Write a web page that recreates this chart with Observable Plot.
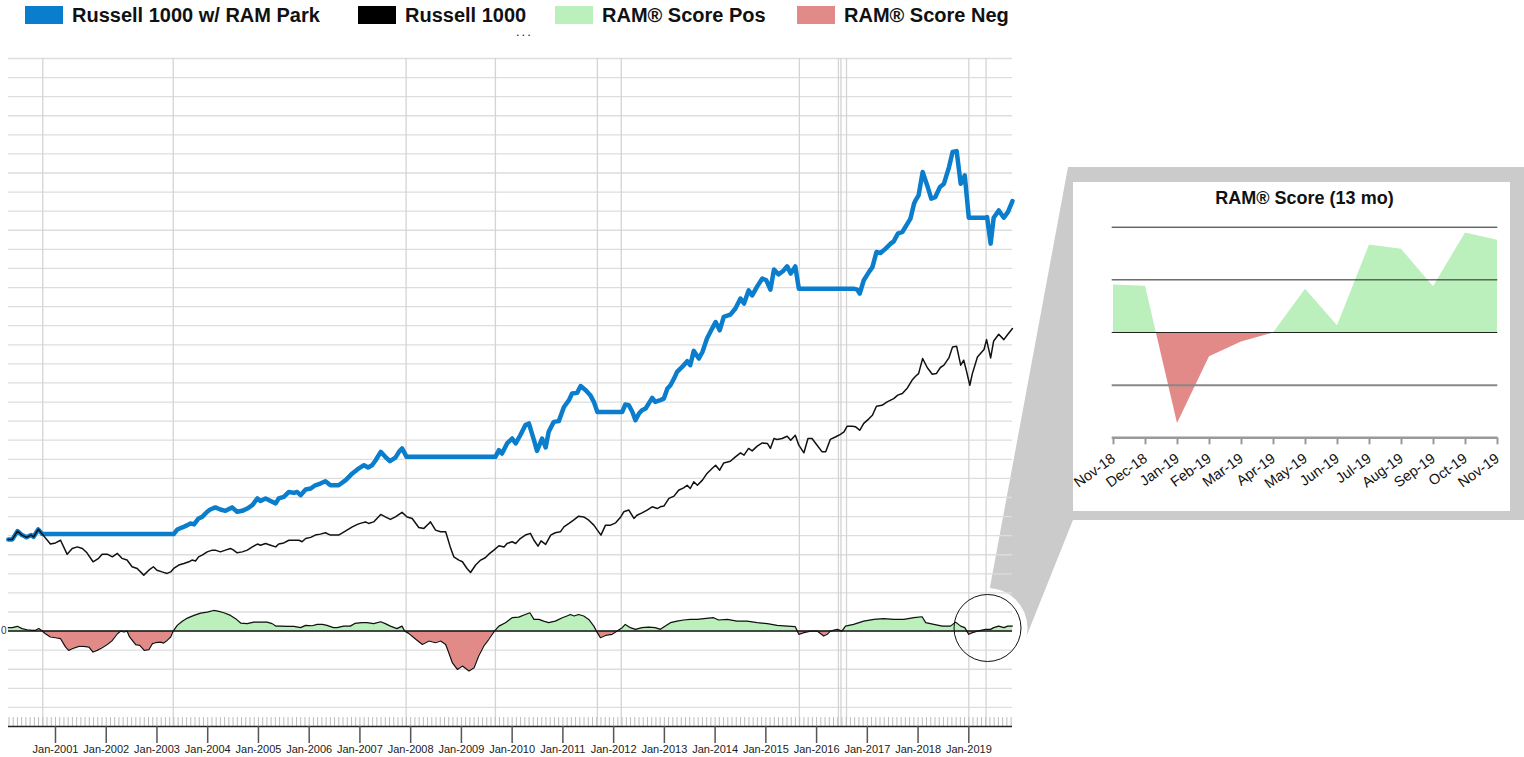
<!DOCTYPE html>
<html>
<head>
<meta charset="utf-8">
<script src="https://cdn.jsdelivr.net/npm/d3@7"></script>
<script src="https://cdn.jsdelivr.net/npm/@observablehq/plot@0.6"></script>
<style>
  html, body { margin: 0; padding: 0; background: #fff; }
  body { font-family: "Liberation Sans", Arial, sans-serif; }
  #wrap { position: relative; width: 1524px; height: 757px; overflow: hidden; }
  .layer { position: absolute; left: 0; top: 0; }
  .item { position: absolute; top: 5px; display: flex; align-items: center; height: 20px;
          font-weight: bold; font-size: 20px; line-height: 20px; color: #111; white-space: nowrap; }
  .sw { display: inline-block; width: 38px; height: 18px; margin-right: 9px; }
  #dots { position: absolute; left: 516px; top: 27px; font-size: 13px; letter-spacing: 2px; line-height: 9px; height: 9px; color: #222; }
  #insetBox { position: absolute; left: 1073px; top: 182px; width: 437px; height: 329px; background: #fff; }
  #insetTitle { position: absolute; left: 38.7px; width: 385.6px; top: 6px; text-align: center;
                font-weight: bold; font-size: 18px; line-height: 20px; color: #111; }
</style>
</head>
<body>
<div id="wrap">
  <svg class="layer" id="under" width="1524" height="757">
    <polygon points="1068,167 1524,167 1524,520 1073,520 1025,640 990,587" fill="#cbcbcb"></polygon>
    <circle cx="987.5" cy="628" r="40" fill="#fff"></circle>
  </svg>
  <div class="layer" id="mainChart"></div>
  <svg class="layer" id="over" width="1524" height="757">
    <circle cx="987.5" cy="628" r="33.5" fill="none" stroke="#111" stroke-width="1"></circle>
  </svg>
  <div id="insetBox"><div id="insetTitle"></div></div>
  <div id="legend"></div>
  <div id="dots">...</div>
</div>
<script>
// ---------------- DATA ----------------
const legendLabels = ["Russell 1000 w/ RAM Park", "Russell 1000", "RAM® Score Pos", "RAM® Score Neg"];
const legendColors = ["#0a7dcc", "#000000", "#bbefbb", "#e28a88"];

// Russell 1000 (index units, decimal years)
const russell1000 = [
[2000.07,48.0],[2000.15,48.0],[2000.25,52.4],[2000.34,50.3],[2000.43,49.1],[2000.52,50.3],[2000.57,49.4],[2000.66,53.3],[2000.74,50.8],
[2000.90,45.6],[2001.00,46.2],[2001.10,47.6],[2001.23,40.2],[2001.33,43.3],[2001.43,44.1],[2001.53,43.3],[2001.62,41.0],[2001.74,36.3],[2001.85,38.1],[2001.92,40.2],[2002.02,40.3],[2002.12,38.9],[2002.22,40.7],[2002.31,38.1],[2002.41,37.2],[2002.51,33.7],[2002.61,32.8],[2002.74,29.3],[2002.84,31.9],[2002.93,33.7],[2003.00,31.9],[2003.10,31.0],[2003.20,30.2],[2003.27,31.0],[2003.33,32.8],[2003.43,34.6],[2003.53,35.4],[2003.63,36.3],[2003.69,37.2],[2003.76,36.7],[2003.82,38.9],[2003.89,39.8],[2003.99,41.5],[2004.09,42.4],[2004.15,42.4],[2004.25,41.5],[2004.35,42.4],[2004.45,43.3],[2004.51,42.4],[2004.58,41.0],[2004.68,41.5],[2004.78,42.4],[2004.88,44.1],[2004.98,45.6],[2005.04,45.0],[2005.14,45.9],[2005.24,45.0],[2005.34,44.1],[2005.40,45.6],[2005.50,46.2],[2005.60,47.6],[2005.70,47.6],[2005.80,47.6],[2005.86,46.8],[2005.93,48.5],[2006.03,49.1],[2006.12,50.3],[2006.22,50.8],[2006.32,51.5],[2006.42,50.3],[2006.58,50.3],[2006.72,52.5],[2006.85,54.6],[2006.95,55.9],[2007.04,56.7],[2007.11,57.2],[2007.17,56.4],[2007.27,57.2],[2007.41,61.1],[2007.50,59.8],[2007.60,58.5],[2007.70,59.8],[2007.83,62.2],[2007.93,59.8],[2008.03,59.0],[2008.16,54.3],[2008.26,53.8],[2008.36,56.4],[2008.39,57.2],[2008.49,52.9],[2008.59,52.0],[2008.69,52.0],[2008.78,44.1],[2008.85,38.9],[2008.95,37.2],[2009.02,36.3],[2009.11,32.8],[2009.18,30.7],[2009.28,34.6],[2009.38,37.2],[2009.47,38.4],[2009.54,40.3],[2009.64,42.4],[2009.74,44.7],[2009.84,44.1],[2009.90,45.9],[2010.00,46.8],[2010.07,45.9],[2010.16,48.5],[2010.26,50.3],[2010.36,51.2],[2010.43,47.6],[2010.51,44.5],[2010.57,47.3],[2010.66,45.4],[2010.76,50.3],[2010.85,51.5],[2010.95,52.0],[2011.02,54.6],[2011.12,56.4],[2011.21,58.1],[2011.31,60.2],[2011.41,59.8],[2011.51,58.1],[2011.61,55.5],[2011.68,52.9],[2011.75,50.3],[2011.84,55.5],[2011.94,55.5],[2012.04,56.7],[2012.14,59.8],[2012.20,62.5],[2012.30,63.4],[2012.40,59.0],[2012.46,60.7],[2012.56,61.9],[2012.66,63.4],[2012.76,65.1],[2012.86,64.2],[2012.92,65.1],[2012.99,65.5],[2013.09,69.5],[2013.19,70.7],[2013.28,73.8],[2013.38,75.0],[2013.45,76.4],[2013.51,74.7],[2013.58,78.2],[2013.65,76.4],[2013.75,79.1],[2013.84,82.6],[2013.94,85.2],[2014.01,86.9],[2014.09,84.3],[2014.17,88.1],[2014.30,89.0],[2014.40,91.3],[2014.50,93.4],[2014.57,92.2],[2014.66,95.7],[2014.73,94.4],[2014.83,96.9],[2014.93,98.6],[2015.03,98.3],[2015.09,95.7],[2015.16,100.9],[2015.22,100.4],[2015.32,100.9],[2015.42,102.1],[2015.49,100.0],[2015.58,102.6],[2015.65,97.4],[2015.75,93.4],[2015.83,100.9],[2015.91,100.9],[2016.01,97.4],[2016.11,93.9],[2016.18,93.9],[2016.27,100.4],[2016.37,101.7],[2016.47,103.1],[2016.54,104.4],[2016.60,107.3],[2016.70,107.3],[2016.77,107.0],[2016.85,105.2],[2016.93,108.8],[2017.03,111.2],[2017.10,113.1],[2017.18,117.8],[2017.29,118.3],[2017.39,120.1],[2017.52,121.8],[2017.60,123.6],[2017.69,124.5],[2017.79,127.4],[2017.88,131.4],[2017.95,133.5],[2018.01,134.9],[2018.09,142.8],[2018.18,138.1],[2018.28,134.6],[2018.36,134.9],[2018.44,138.1],[2018.51,139.3],[2018.61,143.3],[2018.68,148.9],[2018.76,149.2],[2018.84,139.3],[2018.90,141.9],[2018.95,136.7],[2019.02,128.8],[2019.07,134.9],[2019.17,143.6],[2019.23,145.4],[2019.30,147.5],[2019.35,152.7],[2019.43,143.1],[2019.49,152.0],[2019.59,155.5],[2019.69,152.7],[2019.77,155.5],[2019.86,158.5]
];

// Russell 1000 with RAM Park (flat while parked)
const russellPark = [
[2000.07,48.0],[2000.15,48.0],[2000.25,52.4],[2000.34,50.3],[2000.43,49.1],[2000.52,50.3],[2000.57,49.4],[2000.66,53.3],[2000.74,50.8],
[2003.33,50.8],[2003.40,53.2],[2003.50,54.3],[2003.60,55.5],[2003.66,56.4],[2003.73,55.9],[2003.82,59.0],[2003.89,59.8],[2003.99,62.5],[2004.05,63.7],[2004.15,64.8],[2004.25,63.7],[2004.35,63.0],[2004.48,64.8],[2004.58,62.5],[2004.68,63.0],[2004.78,64.2],[2004.88,66.0],[2004.98,69.5],[2005.04,68.2],[2005.14,69.5],[2005.24,68.2],[2005.34,66.9],[2005.40,69.5],[2005.50,70.3],[2005.60,72.9],[2005.70,72.4],[2005.76,72.9],[2005.83,71.2],[2005.93,74.2],[2006.03,74.7],[2006.12,76.4],[2006.22,77.3],[2006.32,78.5],[2006.42,76.4],[2006.58,76.4],[2006.72,79.1],[2006.85,82.6],[2006.95,84.7],[2007.08,86.9],[2007.16,85.7],[2007.24,86.9],[2007.31,89.5],[2007.41,93.9],[2007.50,91.3],[2007.59,89.0],[2007.70,90.9],[2007.77,93.9],[2007.83,95.7],[2007.92,91.3],
[2009.67,91.3],[2009.74,94.8],[2009.80,93.0],[2009.90,98.3],[2010.00,100.9],[2010.07,98.3],[2010.16,102.6],[2010.26,107.9],[2010.33,108.8],[2010.43,100.0],[2010.49,94.4],[2010.59,100.9],[2010.66,96.2],[2010.72,104.4],[2010.82,109.6],[2010.92,110.0],[2011.02,117.4],[2011.12,121.0],[2011.18,124.5],[2011.28,124.8],[2011.35,128.4],[2011.45,126.2],[2011.54,123.6],[2011.61,120.1],[2011.68,114.8],
[2012.17,114.8],[2012.23,118.7],[2012.30,118.3],[2012.37,114.8],[2012.43,110.5],[2012.50,114.0],[2012.56,115.7],[2012.63,116.6],[2012.69,119.2],[2012.76,122.2],[2012.82,120.1],[2012.92,121.0],[2012.99,121.8],[2013.06,127.1],[2013.12,128.8],[2013.19,132.3],[2013.25,135.8],[2013.35,138.4],[2013.45,141.4],[2013.51,139.3],[2013.58,146.8],[2013.68,142.8],[2013.75,146.2],[2013.84,153.3],[2013.94,158.5],[2014.01,161.9],[2014.09,157.6],[2014.17,164.6],[2014.30,165.8],[2014.40,169.0],[2014.50,174.2],[2014.57,171.6],[2014.66,178.5],[2014.73,175.9],[2014.83,180.6],[2014.93,184.7],[2015.01,183.8],[2015.09,178.9],[2015.16,189.4],[2015.25,186.9],[2015.34,188.7],[2015.42,191.1],[2015.49,187.3],[2015.58,191.1],[2015.65,179.4],
[2016.73,179.4],[2016.80,178.9],[2016.85,176.8],[2016.93,183.8],[2017.03,188.1],[2017.10,190.7],[2017.18,198.6],[2017.26,198.1],[2017.36,200.4],[2017.46,203.0],[2017.52,204.2],[2017.60,208.2],[2017.69,209.1],[2017.79,213.5],[2017.85,216.1],[2017.92,223.9],[2017.95,225.7],[2018.01,228.3],[2018.09,240.5],[2018.18,233.5],[2018.26,226.6],[2018.34,227.4],[2018.43,232.6],[2018.51,234.4],[2018.61,243.1],[2018.68,251.0],[2018.76,251.5],[2018.84,234.4],[2018.87,235.3],[2018.92,238.8],[2019.00,216.6],
[2019.33,216.6],[2019.36,216.9],[2019.43,203.0],[2019.49,216.6],[2019.59,220.4],[2019.69,216.6],[2019.77,219.5],[2019.86,225.3]
];

// RAM Score (same index units, 0 = neutral)
const ramScore = [
[2000.07,1.8],[2000.15,1.8],[2000.25,2.5],[2000.34,1.3],[2000.44,0.7],[2000.54,0.4],[2000.61,0.4],[2000.67,1.3],[2000.74,0],
[2000.80,-1.4],[2000.90,-3.1],[2001.00,-3.5],[2001.10,-4.0],[2001.20,-8.4],[2001.26,-10.1],[2001.36,-8.9],[2001.46,-8.0],[2001.56,-8.0],[2001.66,-8.4],[2001.74,-11.0],[2001.82,-10.1],[2001.92,-8.7],[2002.02,-7.0],[2002.12,-4.9],[2002.22,-1.4],[2002.29,0],[2002.35,-0.5],[2002.41,0],[2002.46,-3.1],[2002.58,-7.1],[2002.66,-7.5],[2002.75,-10.1],[2002.84,-9.7],[2002.91,-6.6],[2002.97,-6.1],[2003.07,-5.8],[2003.13,-6.3],[2003.20,-4.9],[2003.27,-3.1],[2003.32,0],
[2003.40,3.0],[2003.50,5.1],[2003.60,6.8],[2003.73,8.2],[2003.86,9.4],[2003.99,9.9],[2004.12,10.8],[2004.22,10.3],[2004.32,9.6],[2004.45,8.2],[2004.55,6.5],[2004.65,4.2],[2004.78,3.9],[2004.91,4.7],[2005.04,4.7],[2005.17,4.7],[2005.27,3.9],[2005.34,2.6],[2005.43,2.6],[2005.57,2.5],[2005.70,2.5],[2005.83,1.8],[2005.93,3.0],[2006.06,2.8],[2006.16,3.5],[2006.26,3.5],[2006.35,3.0],[2006.48,1.8],[2006.55,1.8],[2006.68,2.6],[2006.81,2.6],[2006.90,4.0],[2007.04,4.4],[2007.14,4.4],[2007.27,3.9],[2007.41,4.9],[2007.50,3.9],[2007.60,2.6],[2007.73,1.3],[2007.83,2.6],[2007.88,0],
[2007.96,-1.2],[2008.10,-4.3],[2008.23,-7.0],[2008.36,-5.2],[2008.49,-6.1],[2008.59,-5.2],[2008.69,-7.0],[2008.75,-11.3],[2008.82,-16.5],[2008.92,-20.1],[2009.02,-18.3],[2009.15,-20.9],[2009.25,-19.2],[2009.34,-13.1],[2009.44,-7.9],[2009.54,-4.3],[2009.65,0],
[2009.74,2.6],[2009.87,4.4],[2010.00,7.0],[2010.13,7.3],[2010.26,8.7],[2010.35,9.6],[2010.43,6.1],[2010.53,6.1],[2010.62,5.2],[2010.72,4.4],[2010.85,5.2],[2010.99,7.0],[2011.08,7.9],[2011.15,8.7],[2011.22,7.9],[2011.31,8.7],[2011.41,7.9],[2011.51,6.1],[2011.61,2.6],[2011.66,0],
[2011.74,-3.5],[2011.84,-2.3],[2011.97,-1.7],[2012.07,0],
[2012.17,1.8],[2012.23,3.5],[2012.33,1.8],[2012.43,0.9],[2012.56,1.8],[2012.69,2.1],[2012.82,1.8],[2012.92,0.9],[2013.02,2.6],[2013.12,4.4],[2013.25,5.2],[2013.38,5.8],[2013.51,6.1],[2013.65,6.1],[2013.78,6.5],[2013.97,7.0],[2014.07,5.8],[2014.24,6.1],[2014.43,5.2],[2014.63,5.2],[2014.83,4.4],[2015.03,3.9],[2015.22,3.0],[2015.42,2.6],[2015.58,2.3],
[2015.65,-1.7],[2015.75,-0.8],[2015.88,0],[2016.01,0],[2016.14,-2.6],[2016.21,-1.7],[2016.27,0],[2016.41,0.9],[2016.50,0],
[2016.57,2.6],[2016.73,3.5],[2016.93,5.2],[2017.13,6.1],[2017.32,6.5],[2017.52,6.1],[2017.72,6.1],[2017.92,7.0],[2018.08,7.5],[2018.15,4.4],[2018.31,3.5],[2018.48,2.6],[2018.64,2.6],[2018.74,4.7],[2018.84,2.6],[2018.92,1.8],
[2019.00,-1.7],[2019.07,-0.8],[2019.17,0],[2019.33,0.9],[2019.43,0.9],[2019.49,1.8],[2019.59,2.6],[2019.69,1.8],[2019.77,2.6],[2019.86,2.6]
];

// Park switch dates (vertical grid lines)
const parkSwitches = [2000.75, 2003.32, 2007.91, 2009.67, 2011.68, 2012.15, 2015.66, 2016.43, 2016.48, 2016.59, 2019.00, 2019.34];

// X axis ticks / labels
const yearTicks = [2001,2002,2003,2004,2005,2006,2007,2008,2009,2010,2011,2012,2013,2014,2015,2016,2017,2018,2019];
const yearLabels = yearTicks.map(y => "Jan-" + y);

// Inset: RAM Score last 13 months
const insetTitleText = "RAM® Score (13 mo)";
const insetMonths = ["Nov-18","Dec-18","Jan-19","Feb-19","Mar-19","Apr-19","May-19","Jun-19","Jul-19","Aug-19","Sep-19","Oct-19","Nov-19"];
const insetScores = [0.90, 0.88, -1.73, -0.46, -0.18, -0.01, 0.82, 0.13, 1.66, 1.58, 0.87, 1.89, 1.75];
const insetGrid = [2, 1, 0];

// ---------------- BUILD ----------------
const toRows = arr => arr.map(([t, v]) => ({t, v}));
const russellRows = toRows(russell1000);
const parkRows = toRows(russellPark);
const scoreRows = toRows(ramScore);
const gridY = d3.range(-40, 301, 10);
const monthTicks = d3.range(1, 239).map(m => 2000 + m / 12);
const FONT = "Liberation Sans, Arial, sans-serif";
const POS = legendColors[2], NEG = legendColors[3];

// Legend
const legendStarts = [25, 358, 555, 797];
const legend = d3.select("#legend");
legendLabels.forEach((lab, i) => {
  const it = legend.append("div").attr("class", "item").style("left", legendStarts[i] + "px");
  it.append("span").attr("class", "sw").style("background", legendColors[i]);
  it.append("span").text(lab);
});

// Main chart
const H = 757;
const main = Plot.plot({
  width: 1020, height: H,
  marginLeft: 8, marginRight: 8, marginTop: 58, marginBottom: 31,
  style: {background: "transparent", fontFamily: FONT, overflow: "visible"},
  x: {domain: [2000.074, 2019.861], axis: null, label: null},
  y: {domain: [-50, 300], axis: null, label: null},
  marks: [
    Plot.ruleY(gridY, {stroke: "#dddddd", strokeWidth: 1.3}),
    Plot.ruleX(parkSwitches, {stroke: "#d4d4d4", strokeWidth: 1.3}),
    Plot.areaY(scoreRows, {x: "t", y: "v", fill: "url(#scoreFill)"}),
    Plot.line(scoreRows, {x: "t", y: "v", stroke: "#111", strokeWidth: 1.2}),
    Plot.ruleY([0], {stroke: "#111", strokeWidth: 1.6}),
    Plot.line(parkRows, {x: "t", y: "v", stroke: legendColors[0], strokeWidth: 4.5}),
    Plot.line(russellRows, {x: "t", y: "v", stroke: "#111", strokeWidth: 1.5}),
    Plot.ruleX(monthTicks, {y1: -50, y2: -45.3, stroke: "#bdbdbd", strokeWidth: 1}),
    Plot.ruleY([-50], {stroke: "#222", strokeWidth: 1.5}),
    Plot.axisX(yearTicks, {anchor: "bottom", tickSize: 17, tickPadding: 2, label: null,
      tickFormat: y => yearLabels[yearTicks.indexOf(y)], fontSize: 11, stroke: "#555", strokeWidth: 1.5, fill: "#222"}),
    Plot.axisY([0], {anchor: "left", tickSize: 0, tickPadding: 2, label: null, fontSize: 10, fill: "#333"})
  ]
});
document.getElementById("mainChart").appendChild(main);
const y0 = main.scale("y").apply(0);
const defs = d3.select(main).insert("defs", ":first-child");
const g1 = defs.append("linearGradient").attr("id", "scoreFill").attr("gradientUnits", "userSpaceOnUse")
  .attr("x1", 0).attr("y1", 0).attr("x2", 0).attr("y2", H);
g1.append("stop").attr("offset", y0 / H).attr("stop-color", POS);
g1.append("stop").attr("offset", y0 / H).attr("stop-color", NEG);

// Inset
document.getElementById("insetTitle").textContent = insetTitleText;
const IH = 329;
const insetRows = insetMonths.map((m, i) => ({m, v: insetScores[i]}));
const inset = Plot.plot({
  width: 437, height: IH,
  marginLeft: 38.7, marginRight: 12.7, marginTop: 44.7, marginBottom: 73.7,
  style: {background: "transparent", fontFamily: FONT, overflow: "visible"},
  x: {type: "point", domain: insetMonths, padding: 0, axis: null, label: null},
  y: {domain: [-2, 2], axis: null, label: null},
  marks: [
    Plot.areaY(insetRows, {x: "m", y: "v", fill: "url(#insetFill)"}),
    Plot.ruleY(insetGrid, {stroke: "#222", strokeWidth: 1}),
    Plot.ruleY([-1], {stroke: "#888", strokeWidth: 2}),
    Plot.ruleY([-2], {stroke: "#999", strokeWidth: 2.5}),
    Plot.axisX({anchor: "bottom", tickSize: 7, tickPadding: 12, tickRotate: -36, label: null,
      fontSize: 14.5, stroke: "#999", strokeWidth: 2, fill: "#111"})
  ]
});
const box = document.getElementById("insetBox");
inset.style.position = "absolute"; inset.style.left = "0px"; inset.style.top = "0px";
box.appendChild(inset);
const iy0 = inset.scale("y").apply(0);
const defs2 = d3.select(inset).insert("defs", ":first-child");
const g2 = defs2.append("linearGradient").attr("id", "insetFill").attr("gradientUnits", "userSpaceOnUse")
  .attr("x1", 0).attr("y1", 0).attr("x2", 0).attr("y2", IH);
g2.append("stop").attr("offset", iy0 / IH).attr("stop-color", POS);
g2.append("stop").attr("offset", iy0 / IH).attr("stop-color", NEG);
</script>
</body>
</html>
